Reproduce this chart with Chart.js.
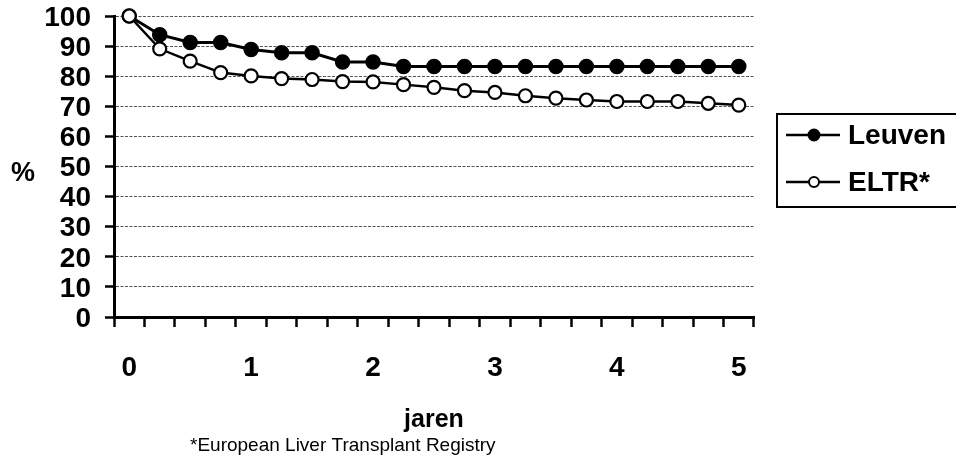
<!DOCTYPE html>
<html>
<head>
<meta charset="utf-8">
<script src="https://cdn.jsdelivr.net/npm/chart.js@4.4.0/dist/chart.umd.min.js"></script>
<style>
    body { margin: 0; background: #fff; }
    #wrap { width: 956px; height: 463px; position: relative; }
</style>
</head>
<body>
<div id="wrap"><canvas id="survivalChart"></canvas></div>
<script>
// -----------------------------
// Données
// -----------------------------
const yearLabels = ['0', '0.25', '0.5', '0.75', '1', '1.25', '1.5', '1.75', '2', '2.25', '2.5',
    '2.75', '3', '3.25', '3.5', '3.75', '4', '4.25', '4.5', '4.75', '5'];
const leuvenValues = [100, 93.8, 91.2, 91.2, 88.9, 87.8, 87.8, 84.7, 84.7, 83.2, 83.2,
    83.2, 83.2, 83.2, 83.2, 83.2, 83.2, 83.2, 83.2, 83.2, 83.2];
const eltrValues = [100, 89.1, 85.0, 81.2, 80.1, 79.2, 78.9, 78.2, 78.1, 77.2, 76.3,
    75.2, 74.6, 73.5, 72.7, 72.1, 71.6, 71.6, 71.6, 71.0, 70.4];
const seriesNames = ['Leuven', 'ELTR*'];
const yAxisTitle = '%';
const xAxisTitle = 'jaren';
const footnote = '*European Liver Transplant Registry';

const FONT = '"Liberation Sans", Arial, sans-serif';

document.addEventListener("DOMContentLoaded", function () {

    // -----------------------------
    // Légende encadrée + titres
    // -----------------------------
    const extrasPlugin = {
        id: 'extras',
        afterDraw(chart) {
            const ctx = chart.ctx;
            const area = chart.chartArea;
            ctx.save();

            // cadre de la légende
            ctx.strokeStyle = '#000';
            ctx.lineWidth = 2;
            ctx.strokeRect(777, 114, 190, 93);

            const rows = [135, 182];
            chart.data.datasets.forEach((ds, i) => {
                const y = rows[i];
                ctx.beginPath();
                ctx.lineWidth = 2.5;
                ctx.moveTo(786, y);
                ctx.lineTo(840, y);
                ctx.stroke();
                ctx.beginPath();
                ctx.arc(814, y, i === 0 ? 5.5 : 5, 0, Math.PI * 2);
                ctx.fillStyle = ds.pointBackgroundColor;
                ctx.fill();
                ctx.lineWidth = 2;
                ctx.stroke();

                ctx.fillStyle = '#000';
                ctx.font = 'bold 28px ' + FONT;
                ctx.textAlign = 'left';
                ctx.textBaseline = 'middle';
                ctx.fillText(ds.label, 848, y + 1);
            });

            // titres des axes
            ctx.fillStyle = '#000';
            ctx.textBaseline = 'middle';
            ctx.textAlign = 'center';
            ctx.font = 'bold 27px ' + FONT;
            ctx.fillText(yAxisTitle, 23, 174);
            ctx.font = 'bold 25px ' + FONT;
            ctx.fillText(xAxisTitle, (area.left + area.right) / 2, 420);

            // note de bas de page
            ctx.font = '19px ' + FONT;
            ctx.textAlign = 'left';
            ctx.fillText(footnote, 190, 446);
            ctx.restore();
        }
    };

    const canvas = document.getElementById('survivalChart');
    new Chart(canvas.getContext('2d'), {
        type: 'line',
        data: {
            labels: yearLabels,
            datasets: [{
                label: seriesNames[0],
                data: leuvenValues,
                borderColor: '#000',
                borderWidth: 3,
                pointRadius: 7,
                pointBackgroundColor: '#000',
                pointBorderColor: '#000',
                pointBorderWidth: 1.5,
                tension: 0,
                clip: false,
                order: 1
            }, {
                label: seriesNames[1],
                data: eltrValues,
                borderColor: '#000',
                borderWidth: 2.5,
                pointRadius: 6.5,
                pointBackgroundColor: '#fff',
                pointBorderColor: '#000',
                pointBorderWidth: 2.2,
                tension: 0,
                clip: false,
                order: 0
            }]
        },
        options: {
            responsive: true,
            maintainAspectRatio: false,
            animation: false,
            layout: { padding: { top: 16, right: 202, left: 0, bottom: 0 } },
            plugins: {
                legend: { display: false },
                tooltip: { enabled: false }
            },
            scales: {
                x: {
                    type: 'category',
                    offset: true,
                    grid: {
                        offset: true,
                        drawOnChartArea: false,
                        drawTicks: true,
                        tickLength: 10,
                        tickWidth: 2.5,
                        tickColor: '#000'
                    },
                    border: { color: '#000', width: 3 },
                    ticks: {
                        autoSkip: false,
                        maxRotation: 0,
                        padding: 24,
                        color: '#000',
                        font: { family: FONT, size: 28, weight: 'bold' },
                        callback: function (value, index) {
                            const lbl = yearLabels[index];
                            return lbl.indexOf('.') === -1 ? lbl : '';
                        }
                    },
                    afterFit: function (scale) {
                        scale.height = 146;
                        scale.paddingLeft = 0;
                        scale.paddingRight = 0;
                    }
                },
                y: {
                    min: 0,
                    max: 100,
                    grid: {
                        color: '#555',
                        lineWidth: 1,
                        tickLength: 9,
                        tickWidth: 2.5,
                        tickColor: '#000'
                    },
                    border: { color: '#000', width: 3, dash: [3, 1.5] },
                    ticks: {
                        stepSize: 10,
                        autoSkip: false,
                        padding: 14,
                        labelOffset: 2,
                        color: '#000',
                        font: { family: FONT, size: 28, weight: 'bold' }
                    },
                    afterFit: function (scale) {
                        scale.width = 114;
                        scale.paddingTop = 0;
                        scale.paddingBottom = 0;
                    }
                }
            }
        },
        plugins: [extrasPlugin]
    });
});
</script>
</body>
</html>
